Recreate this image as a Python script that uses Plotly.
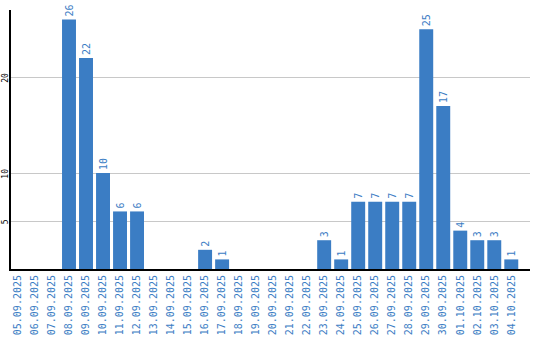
import plotly.graph_objects as go

dates = ["05.09.2025","06.09.2025","07.09.2025","08.09.2025","09.09.2025","10.09.2025",
         "11.09.2025","12.09.2025","13.09.2025","14.09.2025","15.09.2025","16.09.2025",
         "17.09.2025","18.09.2025","19.09.2025","20.09.2025","21.09.2025","22.09.2025",
         "23.09.2025","24.09.2025","25.09.2025","26.09.2025","27.09.2025","28.09.2025",
         "29.09.2025","30.09.2025","01.10.2025","02.10.2025","03.10.2025","04.10.2025"]
values = [0,0,0,26,22,10,6,6,0,0,0,2,1,0,0,0,0,0,3,1,7,7,7,7,25,17,4,3,3,1]
y_ticks = [5, 10, 20]

BLUE = "#3b7dc4"
labels = [str(v) if v else "" for v in values]

fig = go.Figure(go.Bar(
    x=list(range(len(dates))), y=values, text=labels,
    textposition="outside", textangle=-90, constraintext="none", cliponaxis=False,
    textfont=dict(family="DejaVu Sans Mono", size=10, color=BLUE),
    marker=dict(color=BLUE, line=dict(width=0)),
))
fig.update_layout(
    width=540, height=340, margin=dict(l=11, r=10, t=10, b=71),
    plot_bgcolor="white", paper_bgcolor="white", bargap=0.18, showlegend=False,
    xaxis=dict(range=[-0.41, 30.1], tickmode="array", tickvals=list(range(len(dates))),
               ticktext=dates, tickangle=-90, showgrid=False, showline=True,
               linecolor="black", linewidth=2, ticks="", zeroline=False, automargin=False,
               tickfont=dict(family="DejaVu Sans Mono", size=10, color=BLUE)),
    yaxis=dict(range=[0, 27], tickmode="array", tickvals=y_ticks, tickangle=-90,
               showgrid=True, gridcolor="#c8c8c8", gridwidth=1, showline=True,
               linecolor="black", linewidth=2, ticks="", zeroline=False, automargin=False,
               ticklabelstandoff=-2, ticklabelshift=2,
               tickfont=dict(family="DejaVu Sans Mono", size=8, color="black")),
)
fig.write_html("out.html")
